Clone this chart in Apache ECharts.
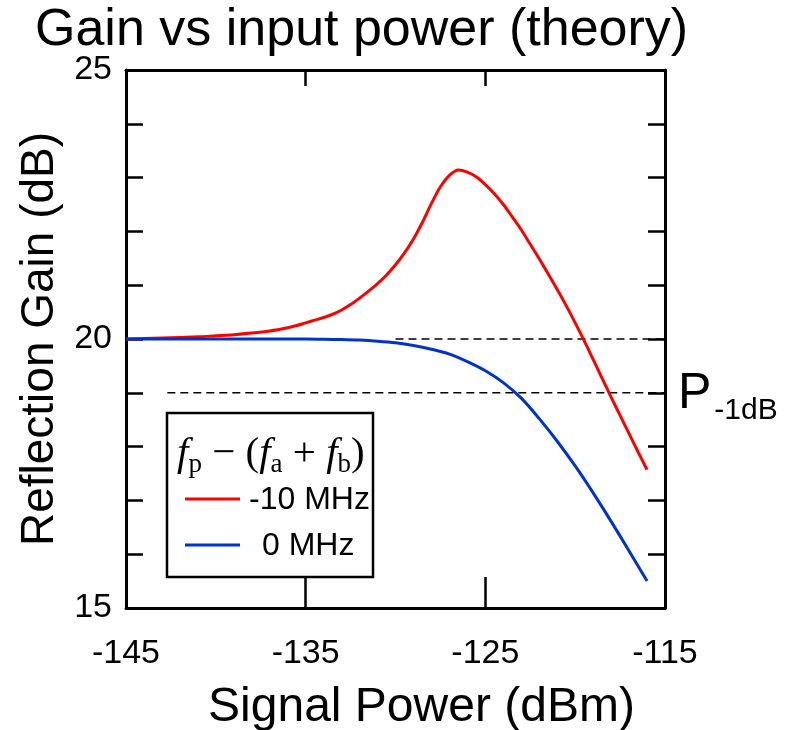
<!DOCTYPE html>
<html>
<head>
<meta charset="utf-8">
<script src="https://cdn.jsdelivr.net/npm/echarts@6/dist/echarts.min.js"></script>
<style>
  html, body { margin: 0; padding: 0; background: #fff; }
  #chart { width: 792px; height: 730px; }
</style>
</head>
<body>
<div id="chart"></div>
<script>
// Signal power (dBm) and reflection gain (dB) for the two detunings
const powerRed = [-145, -144, -143, -142, -141, -140, -139, -138, -137, -136, -135.5, -135, -134.5, -134, -133.5, -133, -132.5, -132, -131.5, -131, -130.5, -130, -129.5, -129, -128.5, -128, -127.5, -127, -126.5, -126, -125.5, -125, -124.5, -124, -123.5, -123, -122.5, -122, -121.5, -121, -120.5, -120, -119.5, -119, -118.5, -118, -117.5, -117, -116.5, -116];
const gainRed  = [20.0, 20.01, 20.02, 20.03, 20.04, 20.06, 20.08, 20.11, 20.15, 20.21, 20.25, 20.3, 20.35, 20.4, 20.46, 20.54, 20.64, 20.76, 20.89, 21.03, 21.19, 21.38, 21.6, 21.86, 22.17, 22.52, 22.83, 23.04, 23.14, 23.1, 23.01, 22.87, 22.7, 22.5, 22.27, 22.03, 21.76, 21.49, 21.21, 20.92, 20.62, 20.3, 19.97, 19.62, 19.27, 18.92, 18.58, 18.24, 17.9, 17.57];

const powerBlue = [-145, -144, -143, -142, -141, -140, -139, -138, -137, -136, -135, -134, -133, -132, -131, -130, -129, -128, -127, -126, -125, -124, -123, -122, -121, -120, -119, -118, -117, -116];
const gainBlue  = [20.0, 20.0, 20.0, 20.0, 20.0, 20.0, 20.0, 20.0, 20.0, 20.0, 20.0, 19.995, 19.99, 19.98, 19.96, 19.93, 19.88, 19.81, 19.72, 19.58, 19.41, 19.19, 18.9, 18.52, 18.1, 17.64, 17.14, 16.61, 16.06, 15.5];

const seriesNames = ['-10 MHz', '0 MHz'];

// Reference levels: small-signal gain and the 1 dB compression level
const refGain = [20, 19];
const refFrom = [-130, -142.7];
const refTo = -115;

// Axis ticks
const xLabelValues = [-145, -135, -125, -115];
const xInnerTicks = [-135, -125];
const yLabelValues = [15, 20, 25];

const pairs = (xs, ys) => xs.map((x, i) => [x, ys[i]]);

const black = '#000';
const sans = 'Liberation Sans, Arial, sans-serif';
const serif = 'Liberation Serif, Times New Roman, serif';

const chart = echarts.init(document.getElementById('chart'), null, { renderer: 'canvas' });

const frameAxisX = (pos, tickLen, showLabel) => ({
  type: 'value', position: pos, min: -145, max: -115, interval: 5,
  axisLine: { show: true, onZero: false, lineStyle: { color: black, width: 3 } },
  axisTick: { show: true, inside: true, length: tickLen, customValues: xInnerTicks, lineStyle: { color: black, width: 2.5 } },
  axisLabel: { show: showLabel, customValues: xLabelValues, color: black, fontSize: 34, fontFamily: sans, margin: 29 },
  splitLine: { show: false }
});

const frameAxisY = (pos, showLabel) => ({
  type: 'value', position: pos, min: 15, max: 25, interval: 1,
  axisLine: { show: true, onZero: false, lineStyle: { color: black, width: 3 } },
  axisTick: { show: true, inside: true, length: 17, lineStyle: { color: black, width: 2.5 } },
  axisLabel: { show: showLabel, color: black, fontSize: 34, fontFamily: sans, margin: 14,
    formatter: v => (yLabelValues.indexOf(v) >= 0 ? String(v) : '') },
  splitLine: { show: false }
});

const xBottom = frameAxisX('bottom', 31, true);
xBottom.name = 'Signal Power (dBm)';
xBottom.nameLocation = 'middle';
xBottom.nameGap = 76;
xBottom.nameTextStyle = { color: black, fontSize: 48, fontFamily: sans, padding: [0, 0, 0, 52] };

const yLeft = frameAxisY('left', true);
yLeft.name = 'Reflection Gain (dB)';
yLeft.nameLocation = 'middle';
yLeft.nameGap = 50;
yLeft.nameTextStyle = { color: black, fontSize: 46, fontFamily: sans };

const refSeries = refGain.map((g, i) => ({
  type: 'line', xAxisIndex: 0, yAxisIndex: 0, silent: true, symbol: 'none',
  data: [[refFrom[i], g], [refTo, g]],
  lineStyle: { color: black, width: 1.5, type: [8, 5] }, z: 1
}));

chart.setOption({
  animation: false,
  backgroundColor: '#fff',
  title: {
    text: 'Gain vs input power (theory)', left: 30, top: 0,
    textStyle: { color: black, fontSize: 52, fontWeight: 'normal', fontFamily: sans }
  },
  grid: { left: 126, right: 127, top: 70, bottom: 122, outerBoundsMode: 'none', containLabel: false },
  xAxis: [xBottom, frameAxisX('top', 16, false)],
  yAxis: [yLeft, frameAxisY('right', false)],
  series: refSeries.concat([
    { name: seriesNames[0], type: 'line', xAxisIndex: 0, yAxisIndex: 0, data: pairs(powerRed, gainRed),
      smooth: 0.3, symbol: 'none', lineStyle: { color: '#ff0000', width: 3 }, z: 3 },
    { name: seriesNames[1], type: 'line', xAxisIndex: 0, yAxisIndex: 0, data: pairs(powerBlue, gainBlue),
      smooth: 0.3, symbol: 'none', lineStyle: { color: '#0033cc', width: 3 }, z: 3 }
  ]),
  graphic: [
    // P-1dB annotation next to the compression level
    { type: 'text', left: 678, top: 369, z: 10,
      style: { text: '{p|P}{s|-1dB}', fill: black,
        rich: { p: { fontSize: 50, fontFamily: sans }, s: { fontSize: 30, fontFamily: sans, padding: [34, 0, 0, 3] } } } },
    // Legend box
    { type: 'rect', shape: { x: 167, y: 413, width: 206, height: 164 }, z: 10,
      style: { fill: '#fff', stroke: black, lineWidth: 2.5 } },
    { type: 'text', left: 177, top: 434, z: 11,
      style: { text: '{fi|f}{sub|p}{op| − (}{fi|f}{sub|a}{op| + }{fi|f}{sub|b}{op|)}', fill: black,
        rich: {
          fi: { fontSize: 41, fontFamily: serif, fontStyle: 'italic' },
          op: { fontSize: 41, fontFamily: serif },
          sub: { fontSize: 27, fontFamily: serif, padding: [20, 0, 0, 0] }
        } } },
    { type: 'line', shape: { x1: 185, y1: 499, x2: 240, y2: 499 }, z: 11,
      style: { stroke: '#ff0000', lineWidth: 3 } },
    { type: 'text', left: 249, top: 484, z: 11,
      style: { text: seriesNames[0], fill: black, fontSize: 32, fontFamily: sans } },
    { type: 'line', shape: { x1: 185, y1: 545, x2: 240, y2: 545 }, z: 11,
      style: { stroke: '#0033cc', lineWidth: 3 } },
    { type: 'text', left: 262, top: 530, z: 11,
      style: { text: seriesNames[1], fill: black, fontSize: 32, fontFamily: sans } }
  ]
});
</script>
</body>
</html>
